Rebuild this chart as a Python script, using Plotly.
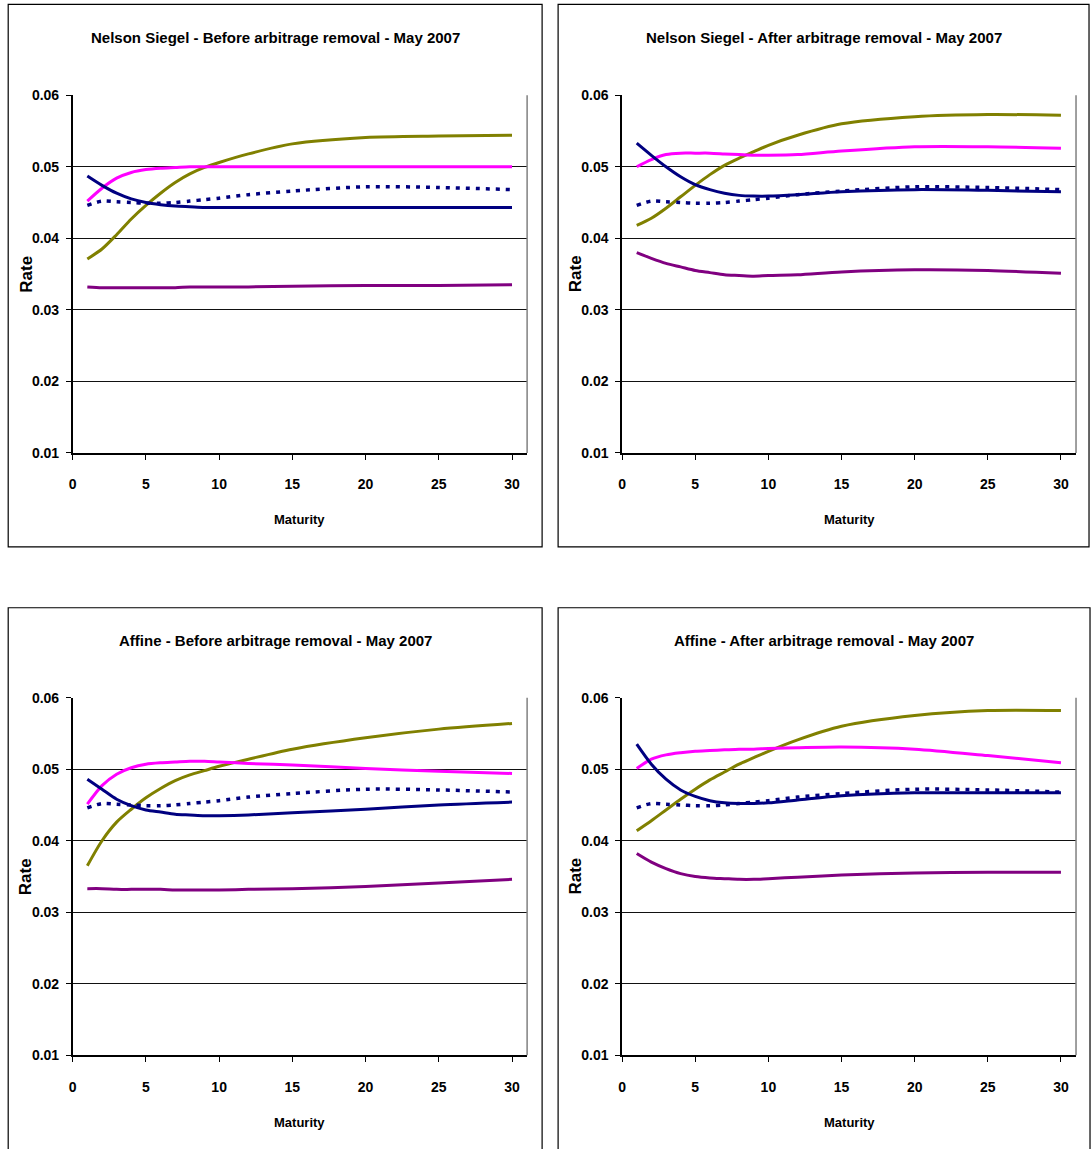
import plotly.graph_objects as go

W, H = 1091, 1149

# Maturities (years) at which each curve is sampled
maturity = [1, 2, 3, 4, 5, 6, 7, 8, 9, 10, 12, 15, 20, 25, 30]

# Observed yields (same market data in every panel)
observed = [0.0446, 0.0452, 0.0451, 0.0450, 0.0449, 0.0449, 0.0450, 0.0452,
            0.0454, 0.0456, 0.0461, 0.0466, 0.0472, 0.0471, 0.0468]

# Nelson Siegel - before arbitrage removal
ns_before_olive = [0.0371, 0.0385, 0.0405, 0.0427, 0.0446, 0.0463, 0.0478, 0.0490,
                   0.0499, 0.0506, 0.0518, 0.0532, 0.0541, 0.0543, 0.0544]
ns_before_magenta = [0.0452, 0.0470, 0.0484, 0.0492, 0.0496, 0.0498, 0.0499, 0.0500,
                     0.0500, 0.0500, 0.0500, 0.0500, 0.0500, 0.0500, 0.0500]
ns_before_navy = [0.0487, 0.0474, 0.0463, 0.0455, 0.0450, 0.0447, 0.0445, 0.0444,
                  0.0443, 0.0443, 0.0443, 0.0443, 0.0443, 0.0443, 0.0443]
ns_before_purple = [0.0332, 0.0331, 0.0331, 0.0331, 0.0331, 0.0331, 0.0331, 0.0332,
                    0.0332, 0.0332, 0.0332, 0.0333, 0.0334, 0.0334, 0.0335]

# Nelson Siegel - after arbitrage removal
ns_after_olive = [0.0418, 0.0428, 0.0442, 0.0458, 0.0474, 0.0489, 0.0502, 0.0512,
                  0.0521, 0.0530, 0.0544, 0.0560, 0.0570, 0.0573, 0.0572]
ns_after_magenta = [0.0500, 0.0510, 0.0517, 0.0519, 0.0519, 0.0519, 0.0518, 0.0517,
                    0.0516, 0.0516, 0.0517, 0.0522, 0.0528, 0.0528, 0.0526]
ns_after_navy = [0.0533, 0.0516, 0.0500, 0.0486, 0.0475, 0.0468, 0.0463, 0.0460,
                 0.0459, 0.0459, 0.0461, 0.0465, 0.0468, 0.0467, 0.0465]
ns_after_purple = [0.0380, 0.0372, 0.0365, 0.0360, 0.0355, 0.0352, 0.0349, 0.0348,
                   0.0347, 0.0348, 0.0349, 0.0353, 0.0356, 0.0355, 0.0351]

# Affine - before arbitrage removal
af_before_olive = [0.0365, 0.0400, 0.0426, 0.0444, 0.0460, 0.0473, 0.0484, 0.0492,
                   0.0498, 0.0504, 0.0514, 0.0528, 0.0544, 0.0556, 0.0564]
af_before_magenta = [0.0451, 0.0477, 0.0493, 0.0502, 0.0507, 0.0509, 0.0510, 0.0511,
                     0.0511, 0.0510, 0.0508, 0.0506, 0.0501, 0.0497, 0.0494]
af_before_navy = [0.0486, 0.0472, 0.0458, 0.0449, 0.0443, 0.0440, 0.0437, 0.0436,
                  0.0435, 0.0435, 0.0436, 0.0439, 0.0444, 0.0450, 0.0454]
af_before_purple = [0.0333, 0.0333, 0.0332, 0.0332, 0.0332, 0.0332, 0.0331, 0.0331,
                    0.0331, 0.0331, 0.0332, 0.0333, 0.0336, 0.0341, 0.0346]

# Affine - after arbitrage removal
af_after_olive = [0.0414, 0.0428, 0.0443, 0.0458, 0.0472, 0.0485, 0.0496, 0.0507,
                  0.0516, 0.0525, 0.0541, 0.0560, 0.0575, 0.0582, 0.0582]
af_after_magenta = [0.0501, 0.0514, 0.0520, 0.0523, 0.0525, 0.0526, 0.0527, 0.0528,
                    0.0528, 0.0529, 0.0530, 0.0531, 0.0528, 0.0519, 0.0509]
af_after_navy = [0.0535, 0.0507, 0.0486, 0.0471, 0.0462, 0.0456, 0.0453, 0.0452,
                 0.0452, 0.0453, 0.0457, 0.0463, 0.0467, 0.0467, 0.0467]
af_after_purple = [0.0382, 0.0370, 0.0361, 0.0354, 0.0350, 0.0348, 0.0347, 0.0346,
                   0.0346, 0.0347, 0.0349, 0.0352, 0.0355, 0.0356, 0.0356]

panel_titles = [
    "Nelson Siegel - Before arbitrage removal - May 2007",
    "Nelson Siegel - After arbitrage removal - May 2007",
    "Affine - Before arbitrage removal - May 2007",
    "Affine - After arbitrage removal - May 2007",
]
panel_series = [
    (ns_before_olive, ns_before_magenta, ns_before_navy, ns_before_purple),
    (ns_after_olive, ns_after_magenta, ns_after_navy, ns_after_purple),
    (af_before_olive, af_before_magenta, af_before_navy, af_before_purple),
    (af_after_olive, af_after_magenta, af_after_navy, af_after_purple),
]
x_ticks = [0, 5, 10, 15, 20, 25, 30]
y_ticks = [0.01, 0.02, 0.03, 0.04, 0.05, 0.06]

OLIVE, MAGENTA, NAVY, PURPLE = "#808000", "#FF00FF", "#000080", "#800080"
FONT = "Liberation Sans, Arial, sans-serif"

# Page-pixel geometry of the four panels: (frame box, plot area box)
panels = [
    ((8, 4, 542, 547), (72.5, 95, 527, 453)),
    ((558, 4, 1089, 547), (622, 95, 1076, 453)),
    ((8, 608, 542, 1152), (72.5, 698, 527, 1056)),
    ((558, 608, 1090, 1152), (622, 698, 1076, 1056)),
]

# page pixels -> figure pixels (the page view is slightly inset and shrunk)
X_OFF, X_SCALE = 3.8, 0.9965
Y_OFF, Y_SCALE = 7.7, 0.987


def px(x):
    return ((x - X_OFF) / X_SCALE) / W


def py(y):
    return 1 - ((y - Y_OFF) / Y_SCALE) / H


fig = go.Figure()
layout = dict(
    width=W, height=H, autosize=False,
    margin=dict(l=0, r=0, t=0, b=0, pad=0),
    paper_bgcolor="white", plot_bgcolor="white",
    showlegend=False,
    font=dict(family=FONT, color="black"),
)
annotations = []
shapes = []
tick_font = dict(family=FONT, size=14, color="black", weight="bold")

for i, ((fx0, fy0, fx1, fy1), (ax0, ay0, ax1, ay1)) in enumerate(panels):
    n = "" if i == 0 else str(i + 1)
    xa, ya = "x" + n, "y" + n
    olive, magenta, navy, purple = panel_series[i]
    for vals, color in ((olive, OLIVE), (magenta, MAGENTA), (navy, NAVY), (purple, PURPLE)):
        fig.add_trace(go.Scatter(
            x=maturity, y=vals, mode="lines", xaxis=xa, yaxis=ya,
            line=dict(color=color, width=3, shape="spline", smoothing=0.8),
        ))
    fig.add_trace(go.Scatter(
        x=maturity, y=observed, mode="lines", xaxis=xa, yaxis=ya,
        line=dict(color=NAVY, width=3.5, dash="4px,6px", shape="spline", smoothing=0.8),
    ))

    layout["xaxis" + n] = dict(
        domain=[px(ax0), px(ax1)], anchor=ya, range=[0, 31.03],
        tickmode="array", tickvals=x_ticks, ticks="outside", ticklen=5,
        tickcolor="black", showline=True, linecolor="black", linewidth=1.5,
        showgrid=False, zeroline=False, fixedrange=True,
        tickfont=tick_font, ticklabelstandoff=13,
    )
    layout["yaxis" + n] = dict(
        domain=[py(ay1), py(ay0)], anchor=xa, range=[0.01, 0.06],
        tickmode="array", tickvals=y_ticks, tickformat=".2f",
        ticks="outside", ticklen=5, tickcolor="black",
        showline=True, linecolor="black", linewidth=1.5,
        showgrid=True, gridcolor="#111111", gridwidth=1.2,
        zeroline=False, fixedrange=True,
        tickfont=tick_font, ticklabelstandoff=4,
    )

    # grey right edge of the plot area
    shapes.append(dict(type="line", xref="paper", yref="paper",
                       x0=px(ax1), x1=px(ax1), y0=py(ay1), y1=py(ay0),
                       line=dict(color="#808080", width=1.5)))
    # outer frame of the chart
    shapes.append(dict(type="rect", xref="paper", yref="paper",
                       x0=px(fx0), x1=px(fx1), y0=py(fy1), y1=py(fy0),
                       line=dict(color="black", width=1.2)))

    annotations.append(dict(
        text="<b>" + panel_titles[i] + "</b>", xref="paper", yref="paper",
        x=px((fx0 + fx1) / 2), y=py(fy0 + 33), xanchor="center", yanchor="middle",
        showarrow=False, font=dict(family=FONT, size=15, color="black"),
    ))
    annotations.append(dict(
        text="<b>Maturity</b>", xref="paper", yref="paper",
        x=px((ax0 + ax1) / 2), y=py(ay1 + 67), xanchor="center", yanchor="middle",
        showarrow=False, font=dict(family=FONT, size=13, color="black"),
    ))
    annotations.append(dict(
        text="<b>Rate</b>", xref="paper", yref="paper", textangle=-90,
        x=px(ax0 - 47), y=py((ay0 + ay1) / 2), xanchor="center", yanchor="middle",
        showarrow=False, font=dict(family=FONT, size=17, color="black"),
    ))

layout["annotations"] = annotations
layout["shapes"] = shapes
fig.update_layout(**layout)

# the figure fills the whole page, so drop the default body margin
fig.write_html("out.html", post_script="document.body.style.margin = '0';")
